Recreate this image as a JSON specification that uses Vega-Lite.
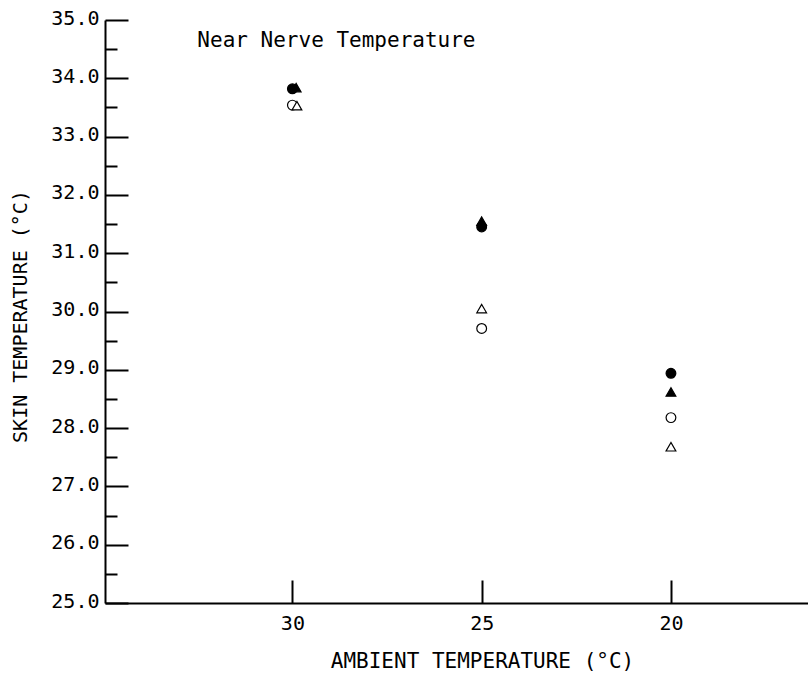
{
  "$schema": "https://vega.github.io/schema/vega-lite/v6.json",
  "width": 703,
  "height": 583,
  "autosize": {"type": "none"},
  "padding": {"left": 105, "top": 20, "right": 0, "bottom": 73},
  "background": "white",
  "config": {
    "view": {"stroke": null},
    "axis": {"domainColor": "black", "tickColor": "black", "labelColor": "black", "titleColor": "black", "grid": false}
  },
  "resolve": {"axis": {"y": "independent"}},
  "layer": [
    {
      "data": {"values": [
        {"ambient": 30.0, "skin": 33.82, "series": "A"},
        {"ambient": 29.9, "skin": 33.84, "series": "B"},
        {"ambient": 30.0, "skin": 33.54, "series": "C"},
        {"ambient": 29.88, "skin": 33.53, "series": "D"},
        {"ambient": 25, "skin": 31.45, "series": "A"},
        {"ambient": 25, "skin": 31.55, "series": "B"},
        {"ambient": 25, "skin": 29.71, "series": "C"},
        {"ambient": 25, "skin": 30.05, "series": "D"},
        {"ambient": 20, "skin": 28.94, "series": "A"},
        {"ambient": 20, "skin": 28.62, "series": "B"},
        {"ambient": 20, "skin": 28.18, "series": "C"},
        {"ambient": 20, "skin": 27.68, "series": "D"}
      ]},
      "mark": {"type": "point", "stroke": "black", "strokeWidth": 1.2, "opacity": 1, "fillOpacity": 1},
      "encoding": {
        "x": {
          "field": "ambient", "type": "quantitative",
          "scale": {"domain": [34.95, 16.38], "nice": false, "zero": false},
          "axis": {
            "values": [30, 25, 20], "format": "d",
            "tickSize": -23, "tickWidth": 2, "domainWidth": 2,
            "labelPadding": 33, "labelFont": "DejaVu Sans Mono", "labelFontSize": 20,
            "title": "AMBIENT TEMPERATURE (°C)", "titleFont": "DejaVu Sans Mono", "titleFontSize": 21, "titleFontWeight": "normal",
            "titleX": 377, "titleY": 58, "titleBaseline": "middle", "titleAlign": "center",
            "labelFlush": false, "labelOverlap": false
          }
        },
        "y": {
          "field": "skin", "type": "quantitative",
          "scale": {"domain": [25, 35], "nice": false, "zero": false},
          "axis": {
            "orient": "left",
            "values": [25, 26, 27, 28, 29, 30, 31, 32, 33, 34, 35], "format": ".1f",
            "tickSize": -23, "tickWidth": 2, "domainWidth": 2,
            "labelPadding": 29, "labelFont": "DejaVu Sans Mono", "labelFontSize": 20,
            "labelBaseline": "middle", "labelOffset": -2,
            "title": "SKIN TEMPERATURE (°C)", "titleFont": "DejaVu Sans Mono", "titleFontSize": 20, "titleFontWeight": "normal",
            "titleX": -85, "titleY": 296, "titleBaseline": "middle", "titleAlign": "center", "titleAngle": 270,
            "labelFlush": false, "labelOverlap": false
          }
        },
        "shape": {
          "field": "series", "type": "nominal",
          "scale": {"domain": ["A", "B", "C", "D"], "range": ["circle", "triangle-up", "circle", "triangle-up"]},
          "legend": null
        },
        "fill": {
          "field": "series", "type": "nominal",
          "scale": {"domain": ["A", "B", "C", "D"], "range": ["black", "black", "white", "white"]},
          "legend": null
        },
        "size": {"value": 95}
      }
    },
    {
      "data": {"values": [
        {"m": 25.5}, {"m": 26.5}, {"m": 27.5}, {"m": 28.5}, {"m": 29.5},
        {"m": 30.5}, {"m": 31.5}, {"m": 32.5}, {"m": 33.5}, {"m": 34.5}
      ]},
      "mark": {"type": "point", "opacity": 0},
      "encoding": {
        "y": {
          "field": "m", "type": "quantitative",
          "axis": {
            "orient": "left",
            "values": [25.5, 26.5, 27.5, 28.5, 29.5, 30.5, 31.5, 32.5, 33.5, 34.5],
            "labels": false, "domain": false, "tickSize": -12, "tickWidth": 2, "title": null
          }
        }
      }
    },
    {
      "data": {"values": [{"ambient": 32.51, "skin": 34.64, "label": "Near Nerve Temperature"}]},
      "mark": {"type": "text", "font": "DejaVu Sans Mono", "fontSize": 21, "align": "left", "baseline": "middle", "color": "black"},
      "encoding": {
        "x": {"field": "ambient", "type": "quantitative"},
        "y": {"field": "skin", "type": "quantitative", "axis": null},
        "text": {"field": "label"}
      }
    }
  ]
}
